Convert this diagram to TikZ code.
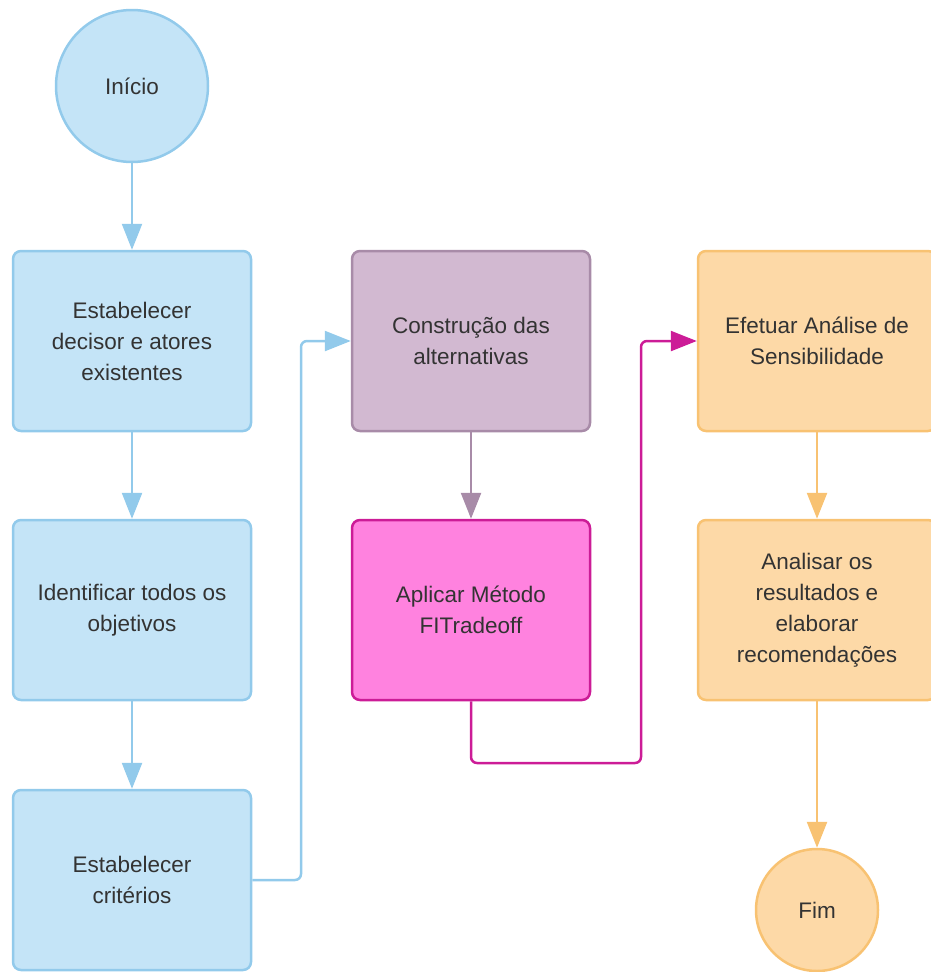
\documentclass[tikz,border=0pt]{standalone}
\usepackage{fontspec}
\setmainfont{Liberation Sans}
\usetikzlibrary{arrows.meta}

\definecolor{azulfill}{HTML}{C4E4F7}
\definecolor{azulline}{HTML}{92CAEB}
\definecolor{lilasfill}{HTML}{D2B9D1}
\definecolor{lilasline}{HTML}{A88BA8}
\definecolor{rosafill}{HTML}{FF82DF}
\definecolor{rosaline}{HTML}{CC1C97}
\definecolor{laranjafill}{HTML}{FDD9A7}
\definecolor{laranjaline}{HTML}{F8C272}
\definecolor{texto}{HTML}{333333}

\tikzset{
  caixa/.style={draw, rounded corners=8pt, line width=2.5pt,
    minimum width=238pt, minimum height=180pt, align=center,
    text=texto, font=\fontsize{22.5}{31}\selectfont},
  bola/.style={circle, draw, line width=2.5pt, text=texto,
    font=\fontsize{22.5}{31}\selectfont},
  azul/.style={fill=azulfill, draw=azulline},
  lilas/.style={fill=lilasfill, draw=lilasline},
  rosa/.style={fill=rosafill, draw=rosaline},
  laranja/.style={fill=laranjafill, draw=laranjaline},
  seta/.style={line width=2.5pt, rounded corners=6pt,
    -{Triangle[length=26pt,width=20pt]}},
}

\begin{document}
\begin{tikzpicture}[x=1pt,y=-1pt]
      \useasboundingbox (0,0) rectangle (930,972);

      \node[bola, azul, minimum size=152pt] (inicio) at (132,86) {Início};
      \node[caixa, azul] (decisor) at (132,341) {Estabelecer\\decisor e atores\\existentes};
      \node[caixa, azul] (objetivos) at (132,610) {Identificar todos os\\objetivos};
      \node[caixa, azul] (criterios) at (132,880) {Estabelecer\\critérios};

      \node[caixa, lilas] (alternativas) at (471,341) {Construção das\\alternativas};
      \node[caixa, rosa] (metodo) at (471,610) {Aplicar Método\\FITradeoff};

      \node[caixa, laranja] (sensib) at (817,341) {Efetuar Análise de\\Sensibilidade};
      \node[caixa, laranja] (analise) at (817,610) {Analisar os\\resultados e\\elaborar\\recomendações};
      \node[bola, laranja, minimum size=122pt] (fim) at (817,910) {Fim};

      \coordinate (subida) at (301,880);
      \coordinate (volta) at (641,763);

      \draw[seta, azulline] (inicio) -- (decisor);
      \draw[seta, azulline] (decisor) -- (objetivos);
      \draw[seta, azulline] (objetivos) -- (criterios);
      \draw[seta, azulline] (criterios.east) -- (subida) |- (alternativas.west);
      \draw[seta, lilasline] (alternativas) -- (metodo);
      \draw[seta, rosaline] (metodo.south) |- (volta) |- (sensib.west);
      \draw[seta, laranjaline] (sensib) -- (analise);
      \draw[seta, laranjaline] (analise) -- (fim);
\end{tikzpicture}
\end{document}
